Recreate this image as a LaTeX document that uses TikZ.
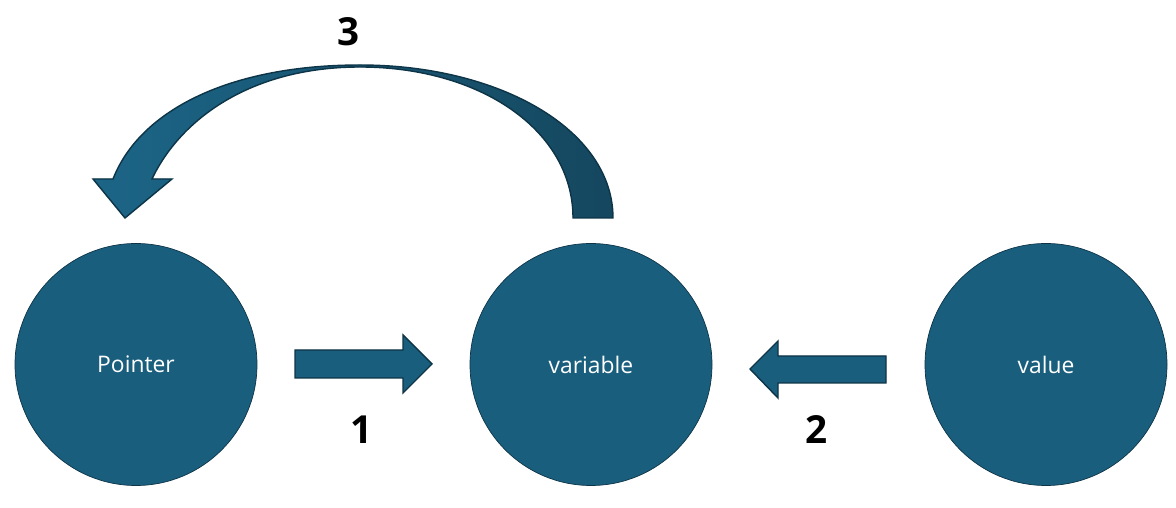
\documentclass[tikz,border=0pt]{standalone}
\usepackage{fontspec}
\setmainfont{Open Sans}
\usetikzlibrary{positioning}
\definecolor{deepteal}{HTML}{1A5E7E}
\definecolor{darkline}{HTML}{0D3447}
\definecolor{arcleft}{HTML}{1C6587}
\definecolor{arcright}{HTML}{15475F}

\begin{document}
\begin{tikzpicture}[node distance=9.1cm]
\tikzstyle{bubble} = [circle, minimum size=4.84cm, inner sep=0pt, draw=darkline, fill=deepteal, text=white, font=\fontsize{13}{15}\selectfont]
\tikzstyle{blockarrow} = [draw=darkline, fill=deepteal, line width=0.8pt, line join=miter]
\tikzstyle{stepnum} = [font=\fontsize{22}{26}\selectfont\bfseries]

\useasboundingbox (0,0) rectangle (23.52,10.16);

\node (pointer) [bubble] at (2.72,2.87) {Pointer};
\node (variable) [bubble, right of=pointer] {variable};
\node (value) [bubble, right of=variable] {value};

% arrow 1: pointer -> variable
\draw[blockarrow] (5.90,3.16) -- (8.06,3.16) -- (8.06,3.46) -- (8.64,2.88) -- (8.06,2.30) -- (8.06,2.60) -- (5.90,2.60) -- cycle;
% arrow 2: value -> variable
\draw[blockarrow] (17.72,3.04) -- (15.56,3.04) -- (15.56,3.34) -- (15.00,2.78) -- (15.56,2.20) -- (15.56,2.50) -- (17.72,2.50) -- cycle;

% arrow 3: variable back to pointer
\draw[blockarrow, left color=arcleft, right color=arcright]
  (11.46,5.80) -- (12.26,5.80)
  .. controls (12.26,7.56) and (10.00,8.86) .. (7.20,8.86)
  .. controls (4.60,8.86) and (2.80,7.96) .. (2.26,6.58)
  -- (1.86,6.58) -- (2.50,5.80) -- (3.44,6.58) -- (3.04,6.58)
  .. controls (3.60,7.76) and (5.00,8.82) .. (7.20,8.82)
  .. controls (9.60,8.82) and (11.46,7.56) .. (11.46,5.80) -- cycle;

\node (num1) [stepnum] at (7.24,1.56) {1};
\node (num2) [stepnum] at (16.34,1.56) {2};
\node (num3) [stepnum] at (6.98,9.52) {3};

\end{tikzpicture}
\end{document}
